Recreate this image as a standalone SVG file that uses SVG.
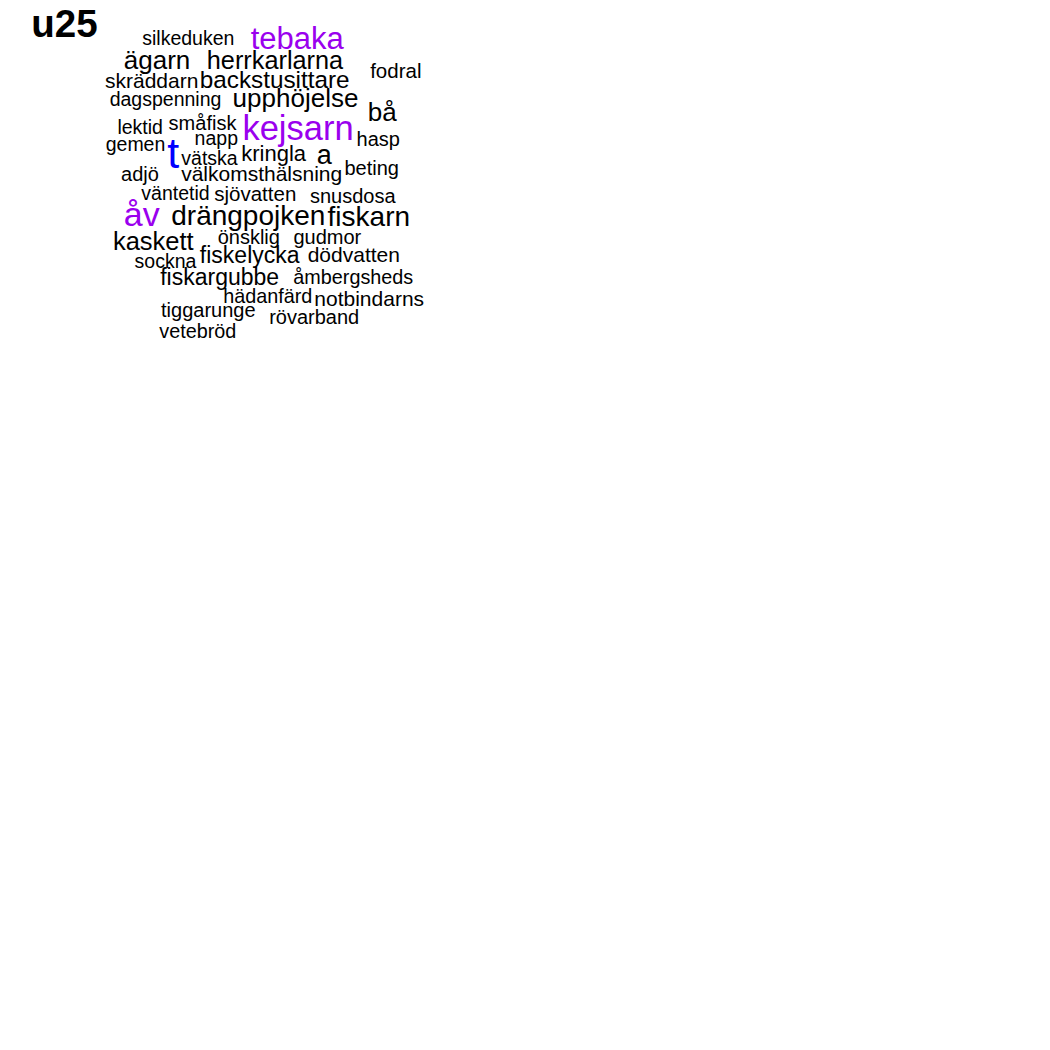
<svg xmlns="http://www.w3.org/2000/svg" width="1050" height="1050" viewBox="0 0 1050 1050">
<style>
text{font-family:"Liberation Sans",Arial,Helvetica,sans-serif;text-anchor:middle;fill:#000}
.p{fill:#9A00EE}
.b{fill:#0000FF}
.title{font-weight:bold;text-anchor:middle}
</style>
<rect width="1050" height="1050" fill="#fff"/>
<g id="title"><text class="title" x="64.5" y="37" font-size="38.5">u25</text></g>
<g id="words">
<text x="188.3" y="45" font-size="19.5">silkeduken</text>
<text class="p" x="297.2" y="48.5" font-size="31">tebaka</text>
<text x="157" y="68.5" font-size="26">ägarn</text>
<text x="275" y="68.5" font-size="25.3">herrkarlarna</text>
<text x="395.8" y="78" font-size="20.5">fodral</text>
<text x="151.7" y="88" font-size="21">skräddarn</text>
<text x="274.7" y="87.5" font-size="24.3">backstusittare</text>
<text x="165.5" y="106" font-size="19.5">dagspenning</text>
<text x="295.5" y="107" font-size="26">upphöjelse</text>
<text x="382.2" y="121" font-size="26">bå</text>
<text x="140.2" y="133.5" font-size="19.5">lektid</text>
<text x="202.5" y="129.5" font-size="20">småfisk</text>
<text class="p" x="298" y="139.5" font-size="34.5">kejsarn</text>
<text x="216.3" y="145" font-size="19.5">napp</text>
<text x="378.3" y="145.5" font-size="20">hasp</text>
<text x="135.5" y="151" font-size="19.5">gemen</text>
<text class="b" x="173.3" y="168" font-size="43">t</text>
<text x="209.5" y="164.5" font-size="19.5">vätska</text>
<text x="273.7" y="161" font-size="22">kringla</text>
<text x="324.2" y="164" font-size="27">a</text>
<text x="371.7" y="174.5" font-size="20">beting</text>
<text x="140" y="180.5" font-size="20">adjö</text>
<text x="261.7" y="180.5" font-size="21">välkomsthälsning</text>
<text x="175.5" y="199.5" font-size="19.5">väntetid</text>
<text x="255.3" y="200.5" font-size="20.5">sjövatten</text>
<text x="352.8" y="202.7" font-size="20">snusdosa</text>
<text class="p" x="141.7" y="226" font-size="34">åv</text>
<text x="248.3" y="224.5" font-size="28">drängpojken</text>
<text x="368.8" y="226" font-size="28">fiskarn</text>
<text x="153.3" y="250.3" font-size="25.5">kaskett</text>
<text x="248.8" y="243.7" font-size="20">önsklig</text>
<text x="327.3" y="243.7" font-size="20">gudmor</text>
<text x="165.5" y="267.5" font-size="19.5">sockna</text>
<text x="249.7" y="262.7" font-size="23">fiskelycka</text>
<text x="353.8" y="262.2" font-size="21">dödvatten</text>
<text x="219.7" y="285.3" font-size="23">fiskargubbe</text>
<text x="353.3" y="283.7" font-size="19.8">åmbergsheds</text>
<text x="267.8" y="302.7" font-size="19.8">hädanfärd</text>
<text x="369.2" y="306" font-size="21">notbindarns</text>
<text x="208.3" y="317.2" font-size="20">tiggarunge</text>
<text x="314.2" y="323.7" font-size="20">rövarband</text>
<text x="197.8" y="337.7" font-size="19.8">vetebröd</text>
</g>
</svg>
